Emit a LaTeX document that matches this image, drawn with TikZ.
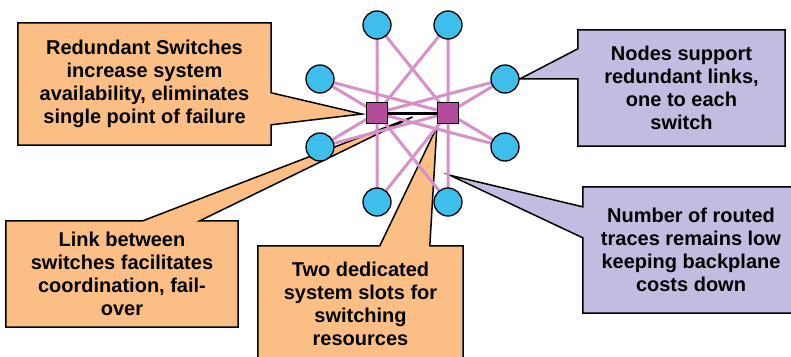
\documentclass[tikz,border=0pt]{standalone}
\usepackage{fontspec}
\setmainfont{Liberation Sans}
\usetikzlibrary{calc}
\definecolor{nodeblue}{RGB}{62,190,235}
\definecolor{swpurple}{RGB}{180,76,156}
\definecolor{linkpink}{RGB}{214,146,200}
\definecolor{boxorange}{RGB}{251,191,134}
\definecolor{boxlilac}{RGB}{193,189,224}
\pgfdeclarelayer{boxes}
\pgfdeclarelayer{links}
\pgfsetlayers{boxes,links,main}

\begin{document}
\begin{tikzpicture}[x=1pt,y=-1pt,
  nd/.style={circle,draw,line width=1.3pt,fill=nodeblue,minimum size=28pt,inner sep=0pt},
  sw/.style={rectangle,draw,line width=1.3pt,fill=swpurple,minimum size=21pt,inner sep=0pt},
  lnk/.style={linkpink,line width=3pt},
  txt/.style={align=center,font=\fontsize{20}{23}\selectfont\bfseries,inner sep=0pt},
  callout/.style={draw,line width=1.5pt}]

\useasboundingbox (0,0) rectangle (791,356);

% end nodes and the two switches
\node[nd] (n1) at (377,25) {};
\node[nd] (n2) at (448,25) {};
\node[nd] (n3) at (320,79) {};
\node[nd] (n4) at (505,79) {};
\node[nd] (n5) at (320,147) {};
\node[nd] (n6) at (505,147) {};
\node[nd] (n7) at (377,202) {};
\node[nd] (n8) at (448,202) {};
\node[sw] (s1) at (377,113) {};
\node[sw] (s2) at (448,113) {};

\begin{pgfonlayer}{links}
\foreach \n in {1,...,8}
  \draw[lnk] (n\n.center) -- (s1.center) (n\n.center) -- (s2.center);
\draw[line width=3pt] (s1) -- (s2);
\end{pgfonlayer}

% callout texts
\node[txt,minimum width=253pt,minimum height=122pt] (redund) at (144.5,84)
  {Redundant Switches\\increase system\\availability, eliminates\\single point of failure};
\node[txt,minimum width=207pt,minimum height=116pt] (support) at (681.5,88)
  {Nodes support\\redundant links,\\one to each\\switch};
\node[txt,minimum width=232pt,minimum height=106pt] (linkbtw) at (122,274)
  {Link between\\switches facilitates\\coordination, fail-\\over};
\node[txt,minimum width=205pt,minimum height=116pt] (slots) at (360.5,304)
  {Two dedicated\\system slots for\\switching\\resources};
\node[txt,minimum width=216pt,minimum height=126pt] (traces) at (691,250)
  {Number of routed\\traces remains low\\keeping backplane\\costs down};

\coordinate (tipc) at ($(s1)!0.5!(s2)+(0,4)$);
\coordinate (tipe) at ($(s2)!0.7!(n8)+(2,0)$);

\begin{pgfonlayer}{boxes}
\filldraw[callout,fill=boxorange] (redund.north west) -- (redund.north east)
  -- ($(redund.north east)+(0,70)$) -- ($(s1.west)+(-4,1)$)
  -- ($(redund.north east)+(0,102)$) -- (redund.south east)
  -- (redund.south west) -- cycle;
\filldraw[callout,fill=boxlilac] (support.north west) -- (support.north east)
  -- (support.south east) -- (support.south west)
  -- ($(support.north west)+(0,49)$) -- (n4.east)
  -- ($(support.north west)+(0,19)$) -- cycle;
\filldraw[callout,fill=boxorange] (linkbtw.north west)
  -- ($(linkbtw.north west)+(137,0)$) -- (tipc)
  -- ($(linkbtw.north west)+(194,0)$) -- (linkbtw.north east)
  -- (linkbtw.south east) -- (linkbtw.south west) -- cycle;
\filldraw[callout,fill=boxorange] (slots.north west)
  -- ($(slots.north west)+(122,0)$) -- ($(s2.south west)+(0,3)$)
  -- ($(slots.north west)+(172,0)$) -- (slots.north east)
  -- (slots.south east) -- (slots.south west) -- cycle;
\filldraw[callout,fill=boxlilac] (traces.north west) -- (traces.north east)
  -- (traces.south east) -- (traces.south west)
  -- ($(traces.north west)+(0,51)$) -- (tipe)
  -- ($(traces.north west)+(0,20)$) -- cycle;
\end{pgfonlayer}
\end{tikzpicture}
\end{document}
